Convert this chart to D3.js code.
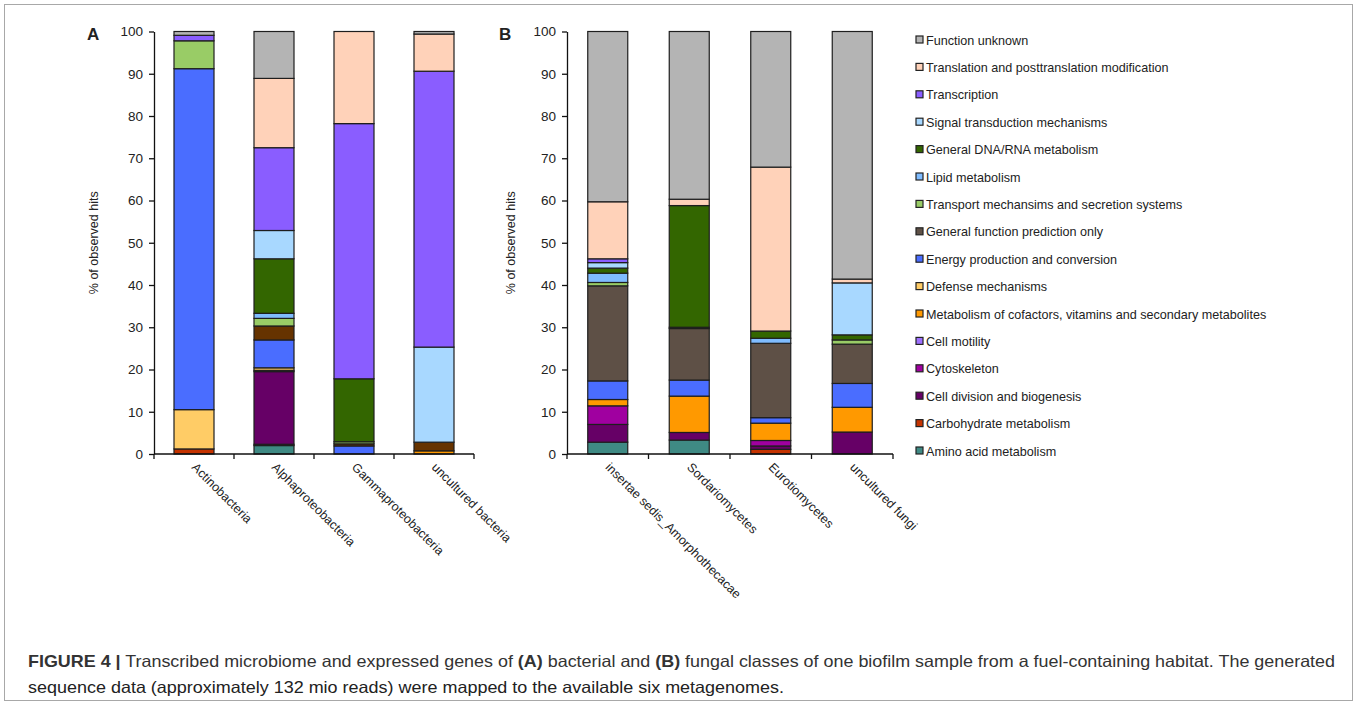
<!DOCTYPE html>
<html>
<head>
<meta charset="UTF-8">
<title>Figure 4</title>
<script src="https://d3js.org/d3.v7.min.js"></script>
<style>
  body { margin: 0; background: #fff; }
  text { font-family: "Liberation Sans", Arial, sans-serif; fill: #222; }
</style>
</head>
<body>
<div id="vis"></div>
<script>
// functional categories, in legend order (top of the stack first)
var seriesNames = [
  "Function unknown",
  "Translation and posttranslation modification",
  "Transcription",
  "Signal transduction mechanisms",
  "General DNA/RNA metabolism",
  "Lipid metabolism",
  "Transport mechansims and secretion systems",
  "General function prediction only",
  "Energy production and conversion",
  "Defense mechanisms",
  "Metabolism of cofactors, vitamins and secondary metabolites",
  "Cell motility",
  "Cytoskeleton",
  "Cell division and biogenesis",
  "Carbohydrate metabolism",
  "Amino acid metabolism"
];
var seriesColors = ["#b4b4b4", "#ffd2b9", "#8a5dff", "#a8d8ff", "#336600", "#7fbcff", "#99cc66",
  "#5e5046", "#4a6dff", "#ffcc66", "#ff9900", "#9e70ff", "#a000a0", "#660066", "#c43300", "#3f8a84"];

// panel A: bacterial classes (values in legend order, %)
var bacteriaClasses = ["Actinobacteria", "Alphaproteobacteria", "Gammaproteobacteria", "uncultured bacteria"];
var actinobacteria      = [0.9, 0, 1.3, 0, 0, 0, 6.6, 0, 80.7, 9.3, 0, 0, 0, 0, 1.2, 0];
var alphaproteobacteria = [11.1, 16.4, 19.6, 6.7, 12.9, 1.2, 1.8, 3.3, 6.6, 0.6, 0, 0, 0.3, 17.2, 0.3, 2.0];
var gammaproteobacteria = [0, 21.8, 60.4, 0, 14.9, 0, 0.5, 0.5, 1.9, 0, 0, 0, 0, 0, 0, 0];
var unculturedBacteria  = [0.6, 8.8, 65.3, 22.5, 0, 0, 0, 2.05, 0, 0, 0.75, 0, 0, 0, 0, 0];

// panel B: fungal classes
var fungiClasses = ["insertae sedis_Amorphothecacae", "Sordariomycetes", "Eurotiomycetes", "uncultured fungi"];
var insertaeSedis   = [40.3, 13.5, 0.9, 1.3, 1.2, 2.2, 0.8, 22.5, 4.4, 0, 1.5, 0, 4.4, 4.2, 0, 2.8];
var sordariomycetes = [39.7, 1.5, 0, 0, 28.8, 0, 0.3, 12.2, 3.8, 0, 8.6, 0, 0, 1.8, 0, 3.3];
var eurotiomycetes  = [32.1, 38.8, 0, 0, 1.7, 1.2, 0, 17.6, 1.3, 0, 4.1, 0, 1.3, 0.8, 1.1, 0];
var unculturedFungi = [58.6, 0.9, 0, 12.3, 1.2, 0, 1.0, 9.3, 5.65, 0, 5.85, 0, 0, 5.2, 0, 0];

var yTicks = [0, 10, 20, 30, 40, 50, 60, 70, 80, 90, 100];

var width = 1358, height = 703;
var svg = d3.select("#vis").append("svg")
  .attr("width", width)
  .attr("height", height);

// frame round the whole figure
svg.append("rect")
  .attr("x", 4.5).attr("y", 4.5)
  .attr("width", 1348).attr("height", 696)
  .attr("fill", "none")
  .attr("stroke", "#a8a8a8");

function toRows(cats, valueLists) {
  return cats.map(function(c, i) {
    var row = {cat: c};
    seriesNames.forEach(function(s, j) { row[s] = valueLists[i][j]; });
    return row;
  });
}

function drawPanel(opts) {
  var rows = toRows(opts.cats, opts.values);
  var x = d3.scaleBand().domain(opts.cats).range([opts.x0, opts.x1]).padding(0);
  var y = d3.scaleLinear().domain([0, 100]).range([454, 31.5]);
  var barW = 40;
  var g = svg.append("g");

  // stack from the bottom of the legend upwards
  var keys = seriesNames.slice().reverse();
  var stacked = d3.stack().keys(keys)(rows);

  var layers = g.selectAll("g.layer")
    .data(stacked)
    .enter().append("g")
    .attr("class", "layer")
    .attr("fill", function(d) {
      if (opts.colorOverride && opts.colorOverride[d.key]) return opts.colorOverride[d.key];
      return seriesColors[seriesNames.indexOf(d.key)];
    });

  layers.selectAll("rect")
    .data(function(d) { return d.filter(function(p) { return p[1] - p[0] > 0; }); })
    .enter().append("rect")
    .attr("x", function(d) { return x(d.data.cat) + (x.bandwidth() - barW) / 2; })
    .attr("y", function(d) { return y(d[1]); })
    .attr("width", barW)
    .attr("height", function(d) { return y(d[0]) - y(d[1]); })
    .attr("stroke", "#1e1e1e")
    .attr("stroke-width", 1.2);

  // y axis
  var yAxis = g.append("g")
    .attr("transform", "translate(" + opts.x0 + ",0)")
    .call(d3.axisLeft(y).tickValues(yTicks).tickSize(5).tickSizeOuter(0).tickPadding(6));
  yAxis.select(".domain").attr("stroke", "#111").attr("stroke-width", 1.3);
  yAxis.selectAll(".tick line").attr("stroke", "#111").attr("stroke-width", 1.3);
  yAxis.selectAll(".tick text")
    .style("font-family", "Liberation Sans, Arial, sans-serif")
    .style("font-size", "13.5px")
    .attr("fill", "#222");

  // x axis: line with ticks at category boundaries
  var bounds = opts.cats.map(function(c) { return x(c); }).concat([x.range()[1]]);
  g.append("line")
    .attr("x1", opts.x0).attr("x2", opts.x1)
    .attr("y1", y(0)).attr("y2", y(0))
    .attr("stroke", "#111").attr("stroke-width", 1.3);
  g.selectAll("line.xtick")
    .data(bounds)
    .enter().append("line")
    .attr("class", "xtick")
    .attr("x1", function(d) { return d; }).attr("x2", function(d) { return d; })
    .attr("y1", y(0)).attr("y2", y(0) + 5)
    .attr("stroke", "#111").attr("stroke-width", 1.3);

  // rotated category labels
  g.selectAll("text.cat")
    .data(opts.cats)
    .enter().append("text")
    .attr("class", "cat")
    .attr("transform", function(d) {
      return "translate(" + (x(d) + x.bandwidth() / 2 - 3) + "," + (y(0) + 14) + ") rotate(45)";
    })
    .attr("text-anchor", "start")
    .style("font-size", "12.5px")
    .text(function(d) { return d; });

  // y axis title
  g.append("text")
    .attr("transform", "translate(" + opts.titleX + "," + y(50) + ") rotate(-90)")
    .attr("text-anchor", "middle")
    .style("font-size", "12.5px")
    .text("% of observed hits");

  // panel letter
  g.append("text")
    .attr("x", opts.letterX).attr("y", 40)
    .style("font-size", "17px")
    .style("font-weight", "bold")
    .attr("fill", "#111")
    .text(opts.letter);
}

drawPanel({
  cats: bacteriaClasses,
  values: [actinobacteria, alphaproteobacteria, gammaproteobacteria, unculturedBacteria],
  x0: 154, x1: 474, titleX: 98, letterX: 87, letter: "A",
  colorOverride: {"General function prediction only": "#663300"}
});

drawPanel({
  cats: fungiClasses,
  values: [insertaeSedis, sordariomycetes, eurotiomycetes, unculturedFungi],
  x0: 567, x1: 893, titleX: 515, letterX: 499, letter: "B"
});

// legend
var legendY = d3.scalePoint().domain(seriesNames).range([40, 451]);
var legend = svg.append("g").selectAll("g")
  .data(seriesNames)
  .enter().append("g")
  .attr("transform", function(d) { return "translate(916," + legendY(d) + ")"; });
legend.append("rect")
  .attr("x", 0).attr("y", -4)
  .attr("width", 7).attr("height", 7)
  .attr("fill", function(d, i) { return seriesColors[i]; })
  .attr("stroke", "#222").attr("stroke-width", 1.2);
legend.append("text")
  .attr("x", 10).attr("y", 4.5)
  .style("font-size", "12.6px")
  .text(function(d) { return d; });

// caption
var cap1 = svg.append("text")
  .attr("x", 28).attr("y", 667)
  .attr("textLength", 1307).attr("lengthAdjust", "spacingAndGlyphs")
  .style("font-size", "16.5px")
  .attr("fill", "#333");
var parts = [
  ["FIGURE 4 |", true], [" Transcribed microbiome and expressed genes of ", false], ["(A)", true],
  [" bacterial and ", false], ["(B)", true],
  [" fungal classes of one biofilm sample from a fuel-containing habitat. The generated", false]
];
parts.forEach(function(p) {
  cap1.append("tspan").style("font-weight", p[1] ? "bold" : "normal").attr("fill", "#333").text(p[0]);
});
svg.append("text")
  .attr("x", 28).attr("y", 693)
  .attr("textLength", 756).attr("lengthAdjust", "spacingAndGlyphs")
  .style("font-size", "16.5px")
  .attr("fill", "#333")
  .text("sequence data (approximately 132 mio reads) were mapped to the available six metagenomes.");
</script>
</body>
</html>
